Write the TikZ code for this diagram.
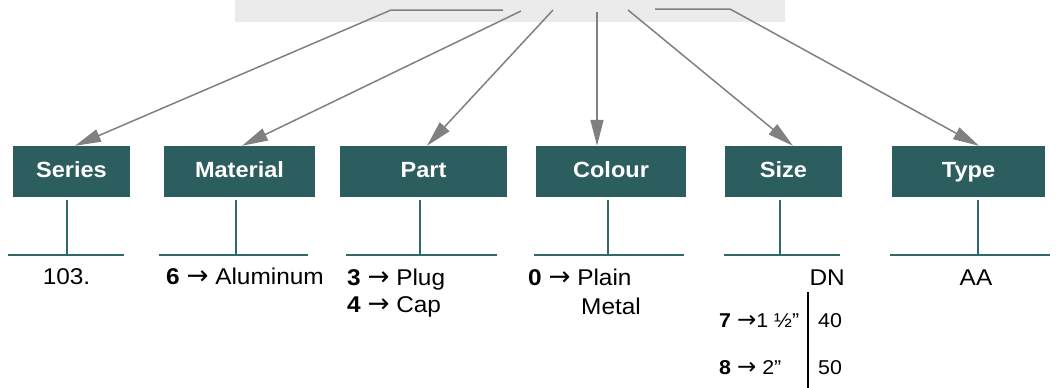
\documentclass[tikz,border=0pt]{standalone}
\usepackage{fontspec}
\setmainfont{Liberation Sans}[FakeStretch=1.07]
\newfontfamily\arrowfont{DejaVu Sans}[Scale=1.15]
\usetikzlibrary{arrows.meta}
\definecolor{codeteal}{HTML}{2C5E60}
\definecolor{stemteal}{HTML}{33686B}
\definecolor{barfill}{HTML}{EBEBEB}
\definecolor{arrowgray}{HTML}{808080}
\newcommand{\toarrow}{{\arrowfont →}}
\begin{document}
\begin{tikzpicture}[
    x=1pt, y=-1pt,
    box/.style={rectangle, fill=codeteal, text=white, font=\fontsize{22}{26}\selectfont\bfseries, minimum height=51pt, inner sep=0pt, text height=11pt, text depth=0pt},
    arrow/.style={arrowgray, line width=1.5pt, -{Triangle[length=26pt,width=13pt]}},
    stem/.style={stemteal, line width=1.8pt},
    value/.style={font=\fontsize{22.8}{27}\selectfont, inner sep=0pt},
    small/.style={font=\fontsize{20}{24}\selectfont, inner sep=0pt}
]
    \useasboundingbox (0,0) rectangle (1057,388);

    % code bar at the top
    \node (bar) [fill=barfill, minimum width=550pt, minimum height=22pt, inner sep=0pt] at (510,11) {};
    \coordinate (srs-a) at (503,10);
    \coordinate (srs-b) at (391,10);
    \coordinate (mat-a) at (521,11);
    \coordinate (prt-a) at (553,10);
    \coordinate (col-a) at (597,12);
    \coordinate (siz-a) at (628,10);
    \coordinate (typ-a) at (655,9);
    \coordinate (typ-b) at (730,9);

    % headings
    \node (series) [box, minimum width=117pt] at (71.5,171.5) {Series};
    \node (material) [box, minimum width=151pt] at (239.5,171.5) {Material};
    \node (part) [box, minimum width=167pt] at (423.5,171.5) {Part};
    \node (colour) [box, minimum width=150pt] at (611,171.5) {Colour};
    \node (size) [box, minimum width=117pt] at (783.5,171.5) {Size};
    \node (type) [box, minimum width=153pt] at (968.5,171.5) {Type};

    \draw [arrow] (srs-a) -- (srs-b) -- ([xshift=3.5pt]series.north);
    \draw [arrow] (mat-a) -- ([xshift=2.5pt]material.north);
    \draw [arrow] (prt-a) -- ([xshift=3.5pt]part.north);
    \draw [arrow] (col-a) -- ([xshift=-14pt]colour.north);
    \draw [arrow] (siz-a) -- ([xshift=9.5pt]size.north);
    \draw [arrow] (typ-a) -- (typ-b) -- ([xshift=10.5pt]type.north);

    % stems and rules
    \draw [stem] ([xshift=-4.5pt,yshift=-3pt]series.south) -- ++(0,55);
    \draw [stem] ([xshift=-3.5pt,yshift=-3pt]material.south) -- ++(0,55);
    \draw [stem] ([xshift=-3.5pt,yshift=-3pt]part.south) -- ++(0,55);
    \draw [stem] ([xshift=-3pt,yshift=-3pt]colour.south) -- ++(0,55);
    \draw [stem] ([xshift=-3.5pt,yshift=-3pt]size.south) -- ++(0,55);
    \draw [stem] ([xshift=9.5pt,yshift=-3pt]type.south) -- ++(0,55);
    \draw [stem] (8,255) -- (124,255);
    \draw [stem] (159,255) -- (308,255);
    \draw [stem] (346,255) -- (497,255);
    \draw [stem] (534,255) -- (684,255);
    \draw [stem] (724,255) -- (840,255);
    \draw [stem] (890,255) -- (1050,255);

    % values
    \node (srs-val) [value, anchor=base] at (66.5,284) {103.};
    \node (mat-val) [value, anchor=base west] at (166,284) {\textbf{6} \toarrow{} Aluminum};
    \node (prt-val1) [value, anchor=base west] at (347,285) {\textbf{3} \toarrow{} Plug};
    \node (prt-val2) [value, anchor=base west] at (347,312) {\textbf{4} \toarrow{} Cap};
    \node (col-val1) [value, anchor=base west] at (528,285) {\textbf{0} \toarrow{} Plain};
    \node (col-val2) [value, anchor=base west] at (581,314) {Metal};
    \node (siz-dn) [value, anchor=base east] at (845,285) {DN};
    \node (siz-in1) [small, anchor=base west] at (719,327) {\textbf{7} \toarrow{}1 ½”};
    \node (siz-dn1) [small, anchor=base west] at (818,327) {40};
    \node (siz-in2) [small, anchor=base west] at (719,374) {\textbf{8} \toarrow{} 2”};
    \node (siz-dn2) [small, anchor=base west] at (818,374) {50};
    \draw [line width=1.8pt] (808,292) -- (808,388);
    \node (typ-val) [value, anchor=base] at (976,285) {AA};
\end{tikzpicture}
\end{document}
